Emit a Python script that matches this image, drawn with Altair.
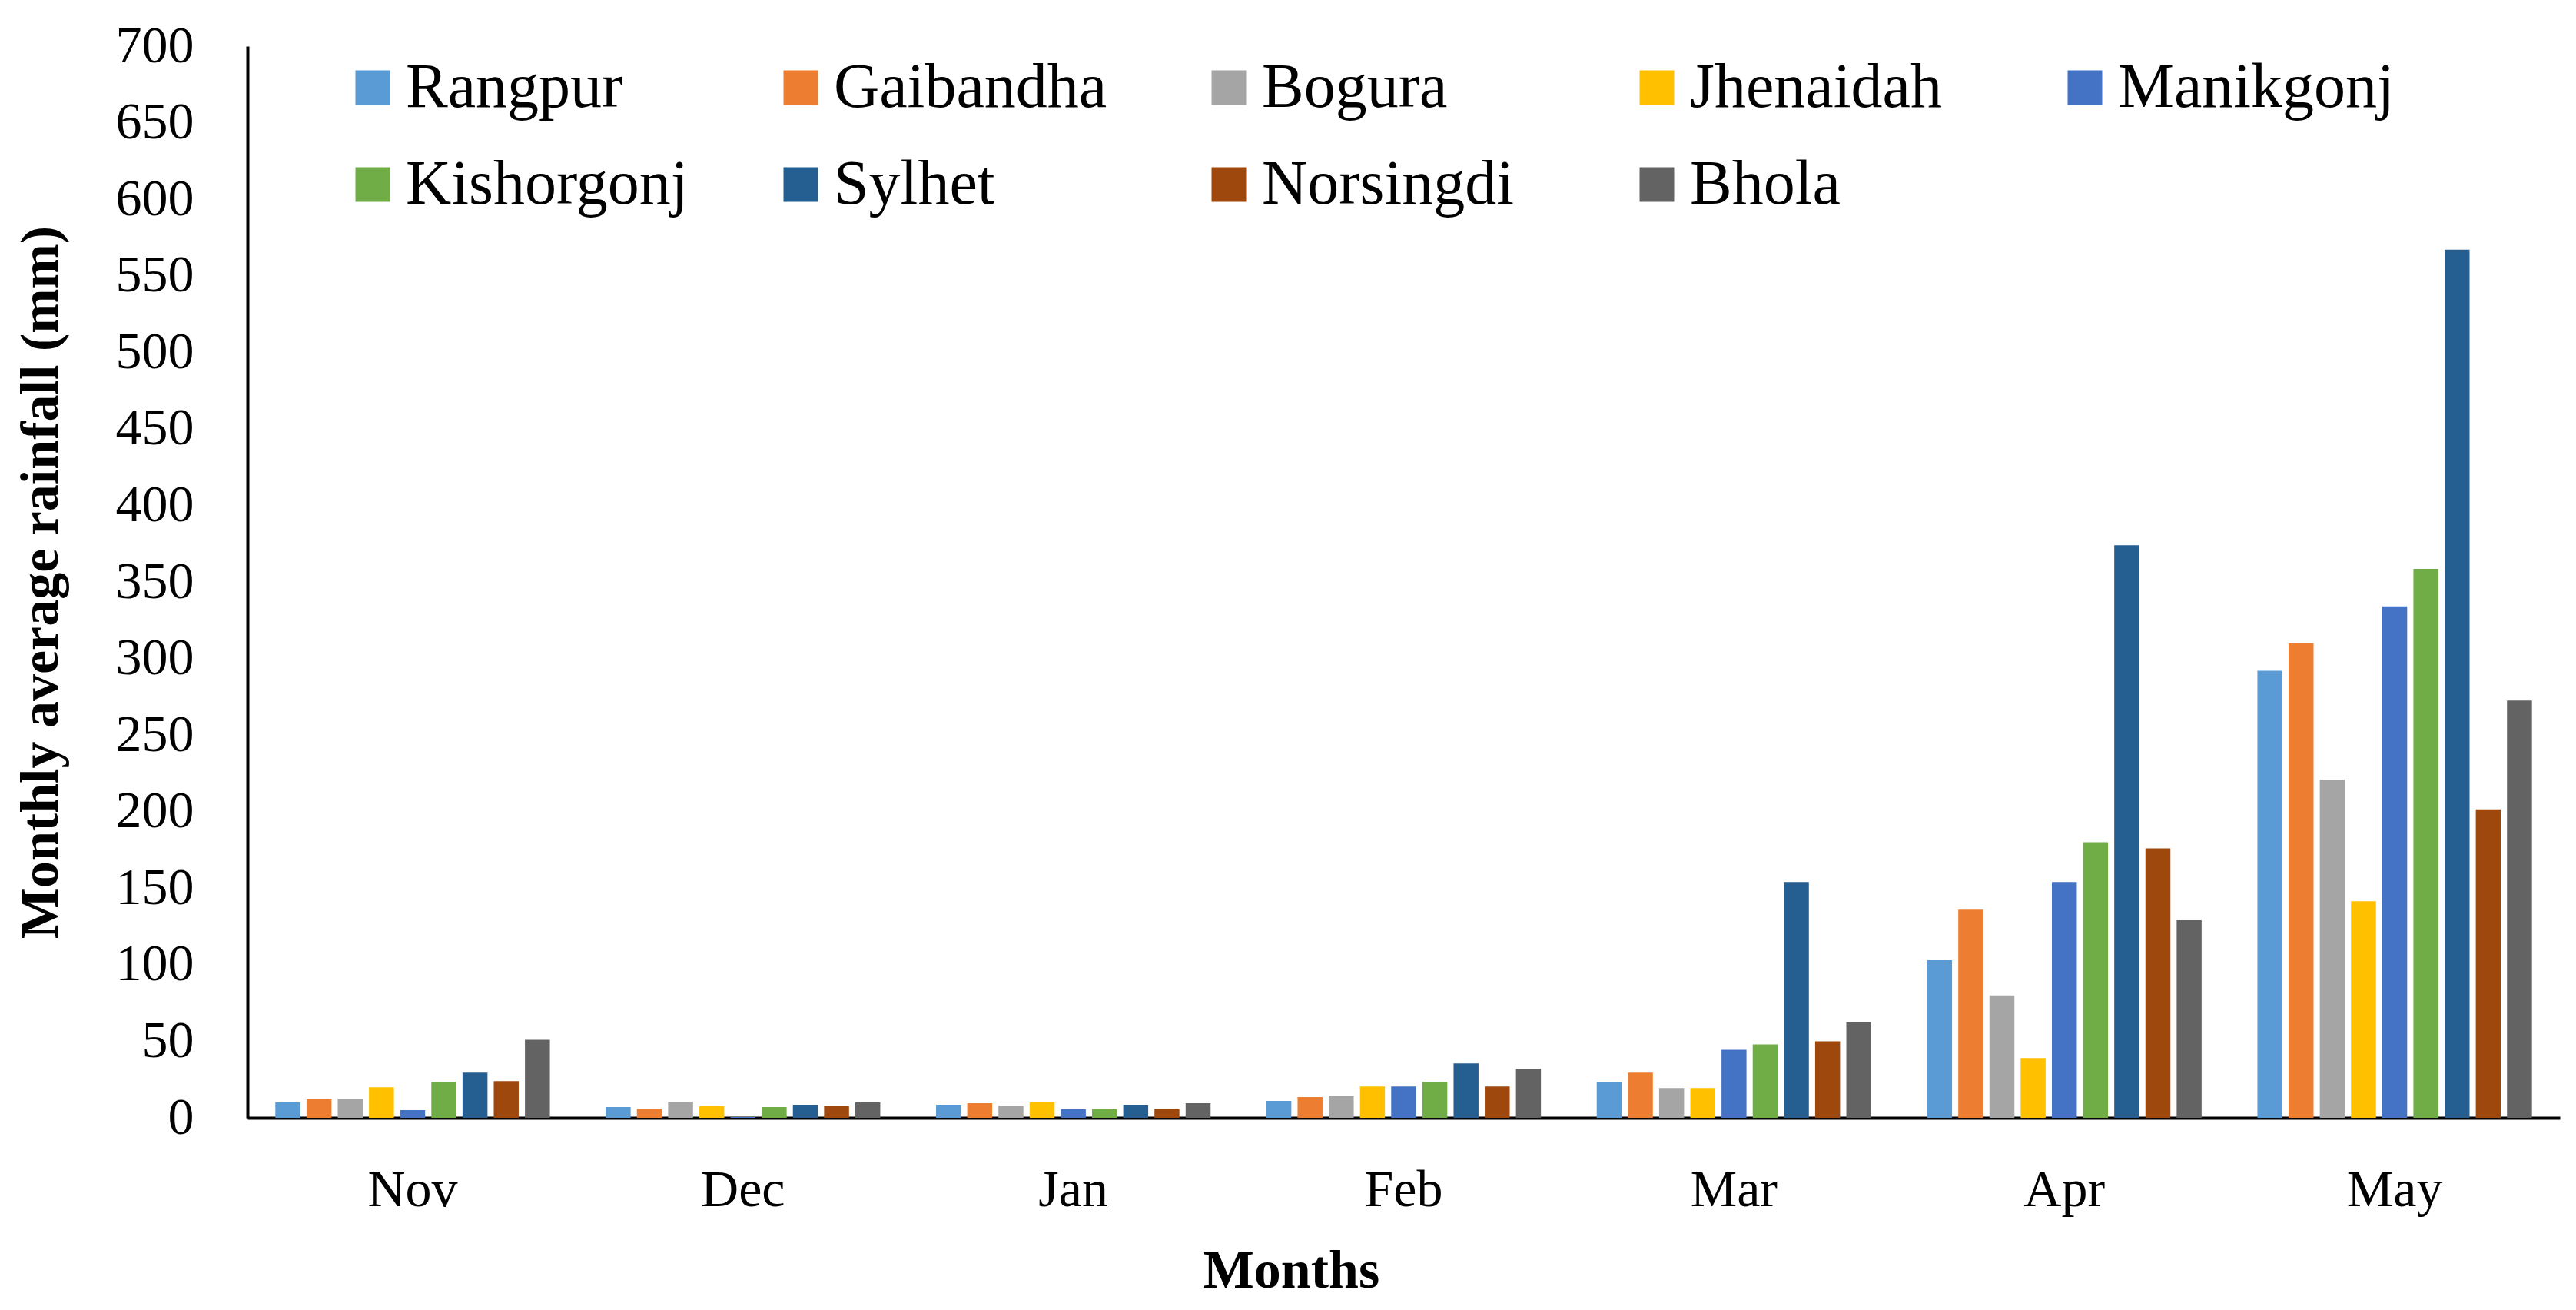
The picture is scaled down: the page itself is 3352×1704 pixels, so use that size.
import altair as alt
import pandas as pd

months = ["Nov", "Dec", "Jan", "Feb", "Mar", "Apr", "May"]
districts = ["Rangpur", "Gaibandha", "Bogura", "Jhenaidah", "Manikgonj",
             "Kishorgonj", "Sylhet", "Norsingdi", "Bhola"]
colors = ["#5B9BD5", "#ED7D31", "#A5A5A5", "#FFC000", "#4472C4",
          "#70AD47", "#255E91", "#9E480E", "#636363"]

rangpur = [10, 7, 8.5, 11, 23.5, 103, 292]
gaibandha = [12, 6, 9.5, 13.5, 29.5, 136, 310]
bogura = [12.5, 10.5, 8, 14.5, 19.5, 80, 221]
jhenaidah = [20, 7.5, 10, 20.5, 19.5, 39, 141.5]
manikgonj = [5, 0.5, 5.5, 20.5, 44.5, 154, 334]
kishorgonj = [23.5, 7, 5.5, 23.5, 48, 180, 358.5]
sylhet = [29.5, 8.5, 8.5, 35.5, 154, 374, 567]
norsingdi = [24, 7.5, 5.5, 20.5, 50, 176, 201.5]
bhola = [51, 10, 9.5, 32, 62.5, 129, 272.5]

series = [rangpur, gaibandha, bogura, jhenaidah, manikgonj,
          kishorgonj, sylhet, norsingdi, bhola]

rows = []
for d, vals in zip(districts, series):
    for m, v in zip(months, vals):
        rows.append({"Month": m, "District": d, "Rainfall": v})
df = pd.DataFrame(rows)

FONT = "Liberation Serif"

chart = alt.Chart(df).mark_bar().encode(
    x=alt.X("Month:N", sort=months,
            scale=alt.Scale(paddingInner=0.15, paddingOuter=0.075),
            axis=alt.Axis(title="Months", labelAngle=0, labelPadding=60,
                          titleX=1358, titleY=199, titleBaseline="middle",
                          titleAlign="center")),
    xOffset=alt.XOffset("District:N", sort=districts,
                        scale=alt.Scale(paddingInner=0.2, paddingOuter=0.1)),
    y=alt.Y("Rainfall:Q",
            scale=alt.Scale(domain=[0, 700], nice=False),
            axis=alt.Axis(title="Monthly average rainfall (mm)",
                          values=list(range(0, 701, 50)), labelPadding=70,
                          titleX=-269, titleY=697, titleAngle=270,
                          titleBaseline="middle", titleAlign="center")),
    color=alt.Color("District:N", sort=districts,
                    scale=alt.Scale(domain=districts, range=colors),
                    legend=alt.Legend(title=None, orient="none", legendX=122,
                                      legendY=13, columns=5, direction="horizontal")),
).properties(
    width=3009,
    height=1394,
    autosize=alt.AutoSizeParams(type="none"),
    padding={"left": 314, "top": 52, "right": 13, "bottom": 240},
).configure_view(
    stroke=None
).configure_axis(
    domainColor="black",
    domainWidth=4,
    ticks=False,
    tickSize=0,
    grid=False,
    labelColor="black",
    labelFont=FONT,
    labelFontSize=68,
    titleColor="black",
    titleFont=FONT,
    titleFontSize=70,
    titleFontWeight="bold",
).configure_legend(
    symbolType="square",
    symbolSize=2025,
    symbolStrokeWidth=0,
    labelFont=FONT,
    labelFontSize=82,
    labelColor="black",
    labelLimit=800,
    labelOffset=2,
    columnPadding=105,
    rowPadding=44,
    gridAlign="all",
)

chart.save("out.html", embed_options={"renderer": "svg", "actions": False})
